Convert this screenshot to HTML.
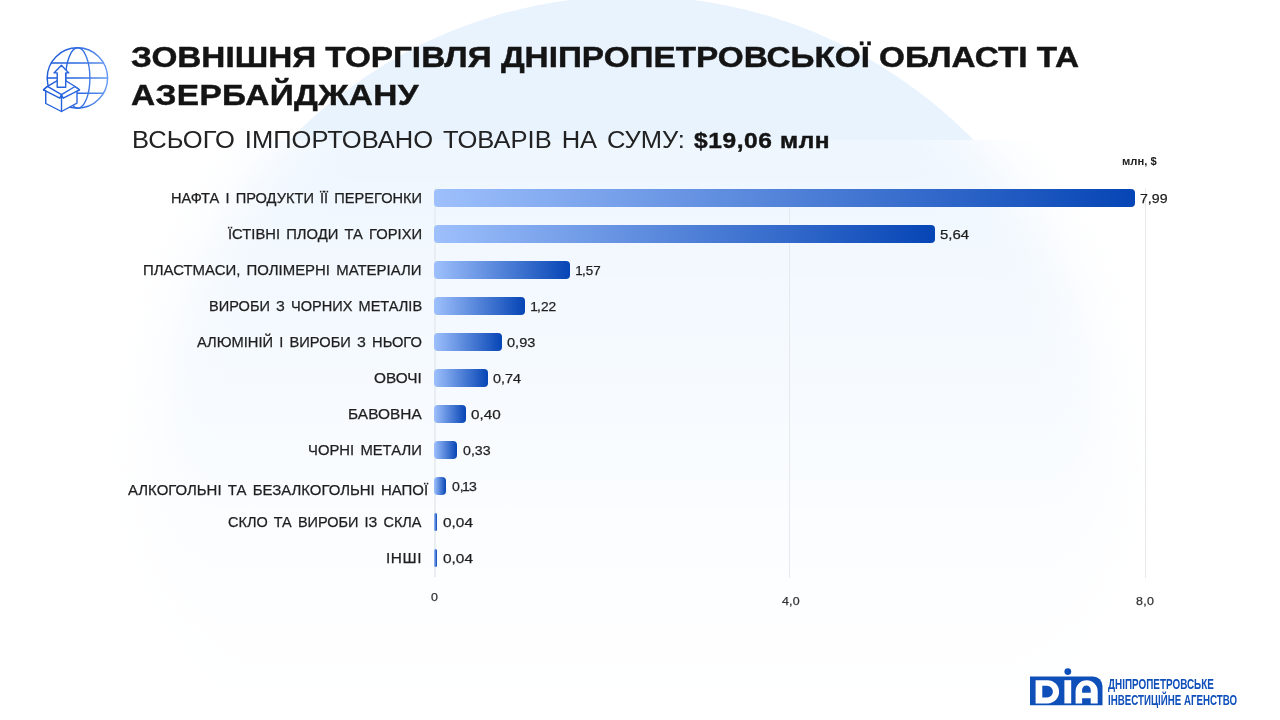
<!DOCTYPE html>
<html lang="uk">
<head>
<meta charset="utf-8">
<title>Зовнішня торгівля Дніпропетровської області та Азербайджану</title>
<style>
html,body{margin:0;padding:0;}
body{width:1280px;height:720px;overflow:hidden;background:#fff;position:relative;font-family:"Liberation Sans",sans-serif;}
.abs{position:absolute;}
.circle{position:absolute;left:154.4px;width:954.4px;height:954.4px;border-radius:50%;background:#e8f3fe;}
#bgtop{position:absolute;left:0;top:0;width:1280px;height:139.5px;overflow:hidden;}
#bgtop .circle{top:-4.5px;}
#panel{position:absolute;left:0;top:139.5px;width:1280px;height:580.5px;overflow:hidden;}
#panel .circle{top:-144px;filter:blur(27px);}
#panel .ov{position:absolute;left:0;top:0;width:1280px;height:580.5px;
  background:linear-gradient(to bottom,rgba(255,255,255,.27) 0,rgba(255,255,255,.55) 200px,rgba(255,255,255,.85) 400px,rgba(255,255,255,.95) 495px,rgba(255,255,255,.97) 550px,#fff 552px);}
.lv{-webkit-text-stroke:0.25px currentColor;}
.tt{-webkit-text-stroke:0.45px currentColor;}
.t{position:absolute;white-space:nowrap;line-height:1;transform-origin:0 0;}
.one{margin:0 -0.9px 0 -1.7px;}
.bar{position:absolute;left:434.1px;height:17.4px;background:linear-gradient(to right,#9ec0fc 0%,#0645b5 100%);}
.grid{position:absolute;width:1px;background:#e7e9ed;}
</style>
</head>
<body>
<div id="bgtop"><div class="circle"></div></div>
<div id="panel"><div class="circle"></div><div class="ov"></div></div>

<!-- gridlines -->
<div class="grid" style="left:434px;top:188px;height:389px;width:1.5px;background:#e9edf4"></div>
<div class="grid" style="left:789px;top:188px;height:390px"></div>
<div class="grid" style="left:1144.7px;top:188px;height:390px"></div>

<!-- bars -->
<div class="bar" style="top:189.15px;width:700.50px;border-radius:4.0px"></div>
<div class="bar" style="top:225.15px;width:500.90px;border-radius:4.0px"></div>
<div class="bar" style="top:261.15px;width:135.90px;border-radius:4.0px"></div>
<div class="bar" style="top:297.15px;width:91.10px;border-radius:4.0px"></div>
<div class="bar" style="top:333.15px;width:67.80px;border-radius:4.0px"></div>
<div class="bar" style="top:369.15px;width:53.80px;border-radius:4.0px"></div>
<div class="bar" style="top:405.15px;width:31.70px;border-radius:4.0px"></div>
<div class="bar" style="top:441.15px;width:23.40px;border-radius:4.0px"></div>
<div class="bar" style="top:477.15px;width:12.15px;border-radius:4.0px"></div>
<div class="bar" style="top:513.15px;width:3.20px;border-radius:1.6px"></div>
<div class="bar" style="top:549.15px;width:3.20px;border-radius:1.6px"></div>

<!-- icon -->
<svg class="abs" style="left:38px;top:40px" width="76" height="76" viewBox="38 40 76 76" fill="none" stroke-linejoin="round" stroke-linecap="round">
<defs><linearGradient id="ig" gradientUnits="userSpaceOnUse" x1="44" y1="80" x2="108" y2="80"><stop offset="0" stop-color="#1c59d8"/><stop offset="0.55" stop-color="#2f6be0"/><stop offset="1" stop-color="#6699f2"/></linearGradient></defs>
<g stroke="url(#ig)" stroke-width="1.4">
<circle cx="77.4" cy="78" r="30.2"/>
<ellipse cx="77.8" cy="78" rx="12.1" ry="30.2"/>
<path d="M51.3 63H103.5M47.2 78H107.6M51.3 93.3H103.5"/>
<!-- box (white filled to hide globe) -->
<path d="M47.5 86.3 L61.5 78.2 L75 86.5 L79.5 89.8 L77 91.2 L77 103.1 L61.5 111.5 L45.75 103.5 L45.75 91 L43.5 89.8 Z" fill="#fff"/>
<path d="M47.5 86.3 L61.5 94.6 L75 86.5M47.5 86.3 L43.5 89.8 L59.75 98.1 L61.5 94.6 L63.25 98.2 L79.5 89.8 L75 86.5M61.5 95V111.5"/>
<!-- arrow -->
<path d="M61.4 65.3 L68.8 72.9 L65.7 72.9 L65.7 87.2 L57.2 87.2 L57.2 72.9 L54 72.9 Z" fill="#fff"/>
</g>
</svg>


<!-- texts -->
<div class="t tt" id="t1" style="left:131.20px;top:42.36px;font-size:29.70px;font-weight:700;color:#141414;letter-spacing:-0.000px;transform:scale(1.1217,1.000);">ЗОВНІШНЯ ТОРГІВЛЯ ДНІПРОПЕТРОВСЬКОЇ ОБЛАСТІ ТА</div>
<div class="t tt" id="t2" style="left:131.20px;top:79.86px;font-size:29.70px;font-weight:700;color:#141414;letter-spacing:0.336px;transform:scale(1.1250,1.000);">АЗЕРБАЙДЖАНУ</div>
<div class="t" id="s1" style="left:132.00px;top:128.74px;font-size:23.70px;font-weight:400;color:#222;letter-spacing:0.000px;transform:scale(1.0781,1.000);word-spacing:2.60px;">ВСЬОГО ІМПОРТОВАНО ТОВАРІВ НА СУМУ:</div>
<div class="t tt" id="s2" style="left:693.50px;top:130.12px;font-size:22.30px;font-weight:700;color:#141414;letter-spacing:0.537px;transform:scale(1.1000,1.000);">$19,06 млн</div>
<div class="t" id="u" style="left:1121.70px;top:155.48px;font-size:11.60px;font-weight:700;color:#222;letter-spacing:0.000px;transform:scale(0.9681,1.000);">млн, $</div>
<div class="t lv" id="l0" style="left:170.70px;top:190.85px;font-size:14.00px;font-weight:400;color:#1f1f1f;letter-spacing:0.000px;transform:scale(1.0438,1.000);word-spacing:2.00px;">НАФТА І ПРОДУКТИ ЇЇ ПЕРЕГОНКИ</div>
<div class="t lv" id="v0" style="left:1140.00px;top:191.70px;font-size:13.70px;font-weight:400;color:#1f1f1f;letter-spacing:0.000px;transform:scale(1.0323,1.000);">7,99</div>
<div class="t lv" id="l1" style="left:227.70px;top:226.85px;font-size:14.00px;font-weight:400;color:#1f1f1f;letter-spacing:0.000px;transform:scale(1.0543,1.000);word-spacing:2.00px;">ЇСТІВНІ ПЛОДИ ТА ГОРІХИ</div>
<div class="t lv" id="v1" style="left:940.40px;top:227.70px;font-size:13.70px;font-weight:400;color:#1f1f1f;letter-spacing:0.000px;transform:scale(1.0961,1.000);">5,64</div>
<div class="t lv" id="l2" style="left:143.30px;top:262.85px;font-size:14.00px;font-weight:400;color:#1f1f1f;letter-spacing:0.000px;transform:scale(1.0665,1.000);word-spacing:2.00px;">ПЛАСТМАСИ, ПОЛІМЕРНІ МАТЕРІАЛИ</div>
<div class="t lv" id="v2" style="left:576.60px;top:263.70px;font-size:13.70px;font-weight:400;color:#1f1f1f;letter-spacing:0.000px;transform:scale(0.9801,1.000);"><span class="one">1</span>,57</div>
<div class="t lv" id="l3" style="left:208.70px;top:298.85px;font-size:14.00px;font-weight:400;color:#1f1f1f;letter-spacing:0.000px;transform:scale(1.0399,1.000);word-spacing:2.00px;">ВИРОБИ З ЧОРНИХ МЕТАЛІВ</div>
<div class="t lv" id="v3" style="left:531.80px;top:299.70px;font-size:13.70px;font-weight:400;color:#1f1f1f;letter-spacing:0.000px;transform:scale(1.0051,1.000);"><span class="one">1</span>,22</div>
<div class="t lv" id="l4" style="left:196.90px;top:334.85px;font-size:14.00px;font-weight:400;color:#1f1f1f;letter-spacing:0.000px;transform:scale(1.0478,1.000);word-spacing:2.00px;">АЛЮМІНІЙ І ВИРОБИ З НЬОГО</div>
<div class="t lv" id="v4" style="left:507.30px;top:335.70px;font-size:13.70px;font-weight:400;color:#1f1f1f;letter-spacing:0.000px;transform:scale(1.0623,1.000);">0,93</div>
<div class="t lv" id="l5" style="left:374.00px;top:370.85px;font-size:14.00px;font-weight:400;color:#1f1f1f;letter-spacing:0.000px;transform:scale(1.0969,1.000);word-spacing:2.00px;">ОВОЧІ</div>
<div class="t lv" id="v5" style="left:493.30px;top:371.70px;font-size:13.70px;font-weight:400;color:#1f1f1f;letter-spacing:0.000px;transform:scale(1.0510,1.000);">0,74</div>
<div class="t lv" id="l6" style="left:348.00px;top:406.85px;font-size:14.00px;font-weight:400;color:#1f1f1f;letter-spacing:0.052px;transform:scale(1.1000,1.000);word-spacing:2.00px;">БАВОВНА</div>
<div class="t lv" id="v6" style="left:471.20px;top:407.70px;font-size:13.70px;font-weight:400;color:#1f1f1f;letter-spacing:0.000px;transform:scale(1.1148,1.000);">0,40</div>
<div class="t lv" id="l7" style="left:308.00px;top:442.85px;font-size:14.00px;font-weight:400;color:#1f1f1f;letter-spacing:-0.000px;transform:scale(1.0592,1.000);word-spacing:2.00px;">ЧОРНІ МЕТАЛИ</div>
<div class="t lv" id="v7" style="left:462.90px;top:443.70px;font-size:13.70px;font-weight:400;color:#1f1f1f;letter-spacing:0.000px;transform:scale(1.0360,1.000);">0,33</div>
<div class="t lv" id="l8" style="left:128.00px;top:482.60px;font-size:14.00px;font-weight:400;color:#1f1f1f;letter-spacing:0.000px;transform:scale(1.0674,1.000);word-spacing:2.00px;">АЛКОГОЛЬНІ ТА БЕЗАЛКОГОЛЬНІ НАПОЇ</div>
<div class="t lv" id="v8" style="left:451.65px;top:479.70px;font-size:13.70px;font-weight:400;color:#1f1f1f;letter-spacing:0.000px;transform:scale(1.0293,1.000);">0,<span class="one">1</span>3</div>
<div class="t lv" id="l9" style="left:228.00px;top:514.85px;font-size:14.00px;font-weight:400;color:#1f1f1f;letter-spacing:-0.000px;transform:scale(1.0345,1.000);word-spacing:2.00px;">СКЛО ТА ВИРОБИ ІЗ СКЛА</div>
<div class="t lv" id="v9" style="left:442.70px;top:515.70px;font-size:13.70px;font-weight:400;color:#1f1f1f;letter-spacing:0.000px;transform:scale(1.1261,1.000);">0,04</div>
<div class="t lv" id="l10" style="left:386.00px;top:550.85px;font-size:14.00px;font-weight:400;color:#1f1f1f;letter-spacing:0.513px;transform:scale(1.1000,1.000);word-spacing:2.00px;">ІНШІ</div>
<div class="t lv" id="v10" style="left:442.70px;top:551.70px;font-size:13.70px;font-weight:400;color:#1f1f1f;letter-spacing:0.000px;transform:scale(1.1261,1.000);">0,04</div>
<div class="t lv" id="a0" style="left:431.00px;top:591.73px;font-size:11.30px;font-weight:400;color:#333;letter-spacing:0.249px;transform:scale(1.1000,1.000);">0</div>
<div class="t lv" id="a1" style="left:782.00px;top:596.23px;font-size:11.30px;font-weight:400;color:#333;letter-spacing:0.186px;transform:scale(1.1000,1.000);">4,0</div>
<div class="t lv" id="a2" style="left:1135.70px;top:596.23px;font-size:11.30px;font-weight:400;color:#333;letter-spacing:0.322px;transform:scale(1.1000,1.000);">8,0</div>
<div class="t" id="g1" style="left:1108.40px;top:675.88px;font-size:15.50px;font-weight:700;color:#0f4fba;letter-spacing:0.000px;transform:scale(0.6383,1.000);">ДНІПРОПЕТРОВСЬКЕ</div>
<div class="t" id="g2" style="left:1108.40px;top:692.08px;font-size:15.50px;font-weight:700;color:#0f4fba;letter-spacing:0.000px;transform:scale(0.6271,1.000);">ІНВЕСТИЦІЙНЕ АГЕНСТВО</div>

<!-- logo -->
<svg class="abs" style="left:1026px;top:664px" width="82" height="46" viewBox="1026 664 82 46">
<g fill="#0f4fba">
<path d="M1030 676.4 H1093 A9.5 9.5 0 0 1 1102.5 685.9 V705.2 H1030 Z"/>
<circle cx="1067.8" cy="671.6" r="3.4"/>
</g>
<g fill="#fff">
<!-- D -->
<path fill-rule="evenodd" d="M1035.6 680.2 H1047.5 A11.6 11.6 0 0 1 1047.5 703.4 H1035.6 Z M1042.3 685.8 V697.6 H1047 A5.9 5.9 0 0 0 1047 685.8 Z"/>
<!-- i -->
<rect x="1064.4" y="680.2" width="6.8" height="23.2"/>
<!-- A -->
<path fill-rule="evenodd" d="M1075.6 703.4 V691.2 A11.05 11.05 0 0 1 1097.7 691.2 V703.4 H1090.7 V698.3 H1082.1 V703.4 Z M1082.1 692.7 H1090.7 V689.7 A4.3 4.3 0 0 0 1082.1 689.7 Z"/>
</g>
</svg>

</body>
</html>
